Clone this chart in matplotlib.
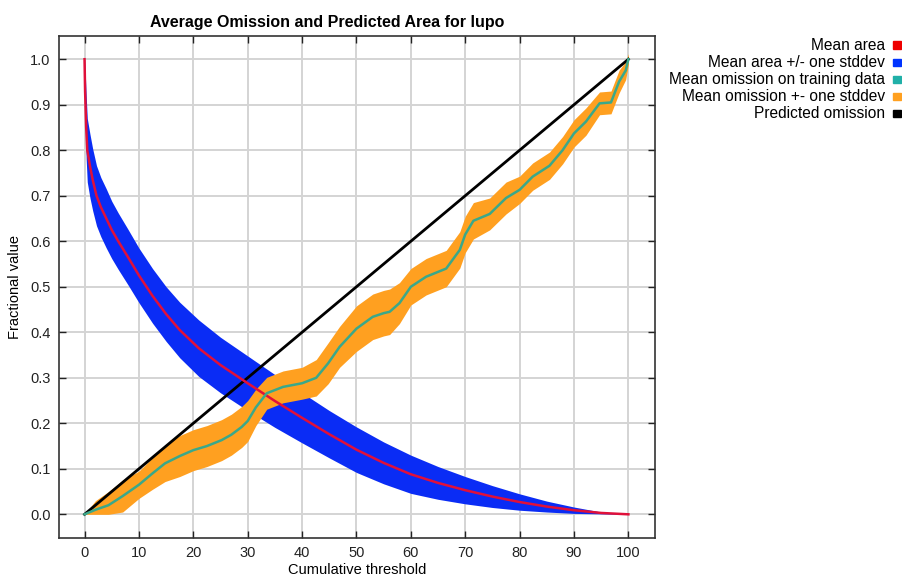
"""Average omission and predicted area chart (Maxent style) for lupo."""

import numpy as np
import matplotlib
matplotlib.use("Agg")
import matplotlib.pyplot as plt
from matplotlib.patches import Rectangle

plt.rcParams['font.family'] = ['Liberation Sans', 'DejaVu Sans']

# Mean fractional predicted area and its stddev
area_x = [0, 0.1, 0.3, 0.5, 1, 1.5, 2.2, 3, 4, 5, 6.2, 8, 10, 12.5, 15,
          17.5, 21, 25, 30, 35, 40, 45, 50, 55, 60, 65, 70, 75, 80, 85, 90,
          95, 100]
area_mean = [1.0, 0.93, 0.85, 0.80, 0.765, 0.735, 0.70, 0.675, 0.65, 0.625,
             0.60, 0.565, 0.525, 0.48, 0.44, 0.405, 0.365, 0.328, 0.288,
             0.249, 0.212, 0.176, 0.142, 0.113, 0.088, 0.069, 0.053, 0.039,
             0.027, 0.017, 0.009, 0.003, 0.0]
area_std = [0.0, 0.05, 0.07, 0.07, 0.07, 0.068, 0.066, 0.065, 0.065, 0.063,
            0.062, 0.061, 0.06, 0.06, 0.06, 0.061, 0.062, 0.061, 0.06,
            0.058, 0.055, 0.052, 0.05, 0.046, 0.042, 0.036, 0.03, 0.024,
            0.018, 0.012, 0.007, 0.002, 0.0]

# Mean omission on training data and its stddev
omis_x = [0, 2, 4.4, 7, 10, 12.5, 14.8, 17.5, 20, 22.5, 25.2, 27, 28.9, 30,
          31.5, 33.5, 36.5, 40, 42.6, 44.8, 46.9, 50, 53, 55, 56.1, 57.9, 60,
          62.8, 66.5, 69, 70, 71.5, 74.5, 77.5, 80, 82.4, 85.5, 87.9, 90,
          92.2, 94.7, 96.8, 98.3, 99.5, 100]
omis_mean = [0.0, 0.01, 0.02, 0.04, 0.065, 0.09, 0.112, 0.128, 0.141, 0.15,
             0.163, 0.175, 0.192, 0.205, 0.235, 0.266, 0.28, 0.288, 0.30,
             0.332, 0.368, 0.408, 0.434, 0.442, 0.445, 0.464, 0.50, 0.522,
             0.54, 0.581, 0.615, 0.645, 0.66, 0.695, 0.713, 0.742, 0.766,
             0.80, 0.837, 0.863, 0.903, 0.905, 0.951, 0.975, 1.0]
omis_std = [0.0, 0.02, 0.03, 0.035, 0.03, 0.035, 0.04, 0.045, 0.045, 0.045,
            0.045, 0.045, 0.045, 0.045, 0.04, 0.035, 0.035, 0.035, 0.04,
            0.045, 0.045, 0.05, 0.05, 0.05, 0.05, 0.045, 0.04, 0.04, 0.04,
            0.04, 0.04, 0.04, 0.035, 0.035, 0.03, 0.03, 0.03, 0.03, 0.03,
            0.03, 0.025, 0.025, 0.025, 0.02, 0.012]

# Predicted omission
pred_x = [0, 100]
pred_y = [0, 1]

legend_labels = ["Mean area", "Mean area +/- one stddev",
                 "Mean omission on training data",
                 "Mean omission +- one stddev", "Predicted omission"]
legend_colors = ["#ee0000", "#0033ff", "#20b0a8", "#ffa020", "#000000"]


def draw_chart():
    fig = plt.figure(figsize=(9.02, 5.76), dpi=100)
    ax = fig.add_axes([0.0654, 0.066, 0.6608, 0.8715])

    ax.grid(True, color='#d4d4d4', linewidth=1.4)
    ax.set_axisbelow(True)

    # Area band and mean
    a_m = np.array(area_mean)
    a_s = np.array(area_std)
    ax.fill_between(area_x, a_m - a_s, a_m + a_s, color='#0a2cf5',
                    linewidth=0, zorder=2)
    ax.plot(area_x, area_mean, color='#e0103a', linewidth=1.8, zorder=4)

    # Omission band and mean
    o_m = np.array(omis_mean)
    o_s = np.array(omis_std)
    ax.fill_between(omis_x, np.clip(o_m - o_s, 0, None), o_m + o_s,
                    color='#ffa020', linewidth=0, zorder=2)
    ax.plot(omis_x, omis_mean, color='#3aa88a', linewidth=1.8, zorder=4)

    ax.plot(pred_x, pred_y, color='black', linewidth=2, zorder=3)

    ax.set_xlim(-4.7, 104.9)
    ax.set_ylim(-0.052, 1.051)
    ax.set_xticks(np.arange(0, 101, 10))
    ax.set_yticks(np.arange(0, 1.01, 0.1))
    ax.set_yticklabels([f"{v:.1f}" for v in np.arange(0, 1.01, 0.1)])
    ax.tick_params(direction='in', length=5, top=True, right=True,
                   labelsize=10.5, colors='#222222', width=1, pad=6)
    for s in ax.spines.values():
        s.set_color('#333333')
        s.set_linewidth(1.2)

    ax.set_xlabel("Cumulative threshold", fontsize=10.5, labelpad=2)
    ax.set_ylabel("Fractional value", fontsize=10.5, labelpad=6)
    fig.text(327 / 902, 1 - 22 / 576,
             "Average Omission and Predicted Area for lupo",
             ha='center', va='center', fontsize=11.5, fontweight='bold')

    # Legend on the right: right-aligned text with a colored square
    for i, (lab, col) in enumerate(zip(legend_labels, legend_colors)):
        y = 1 - (45 + 17.1 * i) / 576
        fig.text(885 / 902, y, lab, ha='right', va='center', fontsize=11.2)
        fig.patches.append(Rectangle((893 / 902, y - 3.5 / 576), 8 / 902,
                                     7 / 576, transform=fig.transFigure,
                                     color=col, figure=fig))

    fig.savefig("out.png", dpi=100)


if __name__ == "__main__":
    draw_chart()
